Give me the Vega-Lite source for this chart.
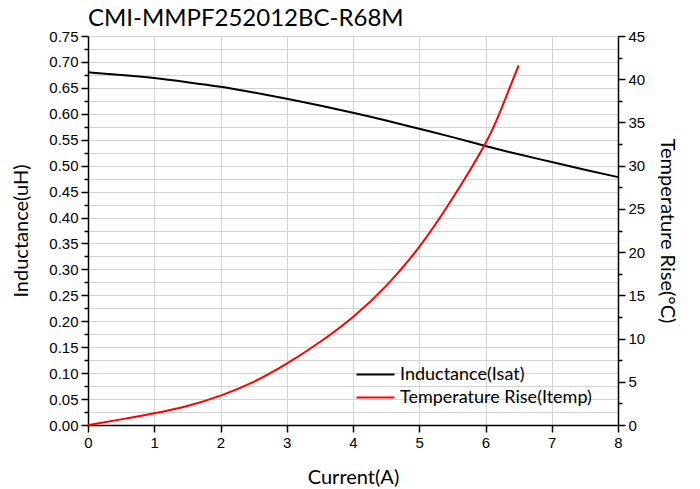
{
  "$schema": "https://vega.github.io/schema/vega-lite/v6.json",
  "width": 530,
  "height": 389,
  "autosize": "none",
  "padding": {"left": 88, "top": 36, "right": 82, "bottom": 64},
  "background": "white",
  "title": {"text": "CMI-MMPF252012BC-R68M", "anchor": "start", "frame": "group", "font": "Lato", "fontSize": 24, "fontWeight": "normal", "color": "#000000", "offset": 0, "dy": 2},
  "config": {
    "view": {"stroke": null},
    "axis": {
      "domainColor": "#000000", "domainWidth": 1.5, "tickColor": "#000000", "tickWidth": 1.5,
      "labelFont": "Liberation Sans", "labelFontSize": 15, "labelColor": "#000000",
      "titleFont": "Lato", "titleFontSize": 20, "titleFontWeight": "normal", "titleColor": "#000000",
      "gridColor": "#d3d3d3", "gridWidth": 1, "labelPadding": 3
    }
  },
  "data": {"values": [
    {"current": 0, "series": "Inductance(Isat)", "value": 0.680},
    {"current": 0.5, "series": "Inductance(Isat)", "value": 0.675},
    {"current": 1, "series": "Inductance(Isat)", "value": 0.669},
    {"current": 1.5, "series": "Inductance(Isat)", "value": 0.661},
    {"current": 2, "series": "Inductance(Isat)", "value": 0.652},
    {"current": 2.5, "series": "Inductance(Isat)", "value": 0.641},
    {"current": 3, "series": "Inductance(Isat)", "value": 0.629},
    {"current": 3.5, "series": "Inductance(Isat)", "value": 0.616},
    {"current": 4, "series": "Inductance(Isat)", "value": 0.602},
    {"current": 4.5, "series": "Inductance(Isat)", "value": 0.587},
    {"current": 5, "series": "Inductance(Isat)", "value": 0.571},
    {"current": 5.5, "series": "Inductance(Isat)", "value": 0.555},
    {"current": 6, "series": "Inductance(Isat)", "value": 0.538},
    {"current": 6.5, "series": "Inductance(Isat)", "value": 0.522},
    {"current": 7, "series": "Inductance(Isat)", "value": 0.507},
    {"current": 7.5, "series": "Inductance(Isat)", "value": 0.492},
    {"current": 8, "series": "Inductance(Isat)", "value": 0.478},
    {"current": 0, "series": "Temperature Rise(Itemp)", "value": 0},
    {"current": 0.5, "series": "Temperature Rise(Itemp)", "value": 0.65},
    {"current": 1, "series": "Temperature Rise(Itemp)", "value": 1.35},
    {"current": 1.5, "series": "Temperature Rise(Itemp)", "value": 2.2},
    {"current": 2, "series": "Temperature Rise(Itemp)", "value": 3.4},
    {"current": 2.5, "series": "Temperature Rise(Itemp)", "value": 5.0},
    {"current": 3, "series": "Temperature Rise(Itemp)", "value": 7.1},
    {"current": 3.5, "series": "Temperature Rise(Itemp)", "value": 9.6},
    {"current": 4, "series": "Temperature Rise(Itemp)", "value": 12.5},
    {"current": 4.5, "series": "Temperature Rise(Itemp)", "value": 16.1},
    {"current": 5, "series": "Temperature Rise(Itemp)", "value": 20.6},
    {"current": 5.5, "series": "Temperature Rise(Itemp)", "value": 26.2},
    {"current": 6, "series": "Temperature Rise(Itemp)", "value": 32.6},
    {"current": 6.25, "series": "Temperature Rise(Itemp)", "value": 36.8},
    {"current": 6.5, "series": "Temperature Rise(Itemp)", "value": 41.6}
  ]},
  "layer": [
    {
      "transform": [{"filter": "datum.series == 'Inductance(Isat)'"}],
      "mark": {"type": "line", "strokeWidth": 2, "interpolate": "natural"},
      "encoding": {
        "x": {"field": "current", "type": "quantitative", "title": "Current(A)",
          "scale": {"domain": [0, 8], "nice": false, "zero": false},
          "axis": {"values": [0,0.5,1,1.5,2,2.5,3,3.5,4,4.5,5,5.5,6,6.5,7,7.5,8],
            "labelExpr": "datum.value % 1 == 0 ? format(datum.value, 'd') : ''",
            "tickSize": {"condition": {"test": "datum.value % 1 == 0", "value": 7}, "value": 4},
            "grid": true, "titlePadding": 17, "labelFlush": false}},
        "y": {"field": "value", "type": "quantitative", "title": "Inductance(uH)",
          "scale": {"domain": [0, 0.75], "nice": false},
          "axis": {"orient": "left",
            "values": [0,0.025,0.05,0.075,0.1,0.125,0.15,0.175,0.2,0.225,0.25,0.275,0.3,0.325,0.35,0.375,0.4,0.425,0.45,0.475,0.5,0.525,0.55,0.575,0.6,0.625,0.65,0.675,0.7,0.725,0.75],
            "labelExpr": "round(datum.value*1000) % 50 == 0 ? format(datum.value, '.2f') : ''",
            "tickSize": {"condition": {"test": "round(datum.value*1000) % 50 == 0", "value": 7}, "value": 4},
            "grid": true, "titlePadding": 17, "labelFlush": false}},
        "color": {"field": "series", "type": "nominal",
          "scale": {"domain": ["Inductance(Isat)", "Temperature Rise(Itemp)"], "range": ["#000000", "#ff0000"]},
          "legend": {"title": null, "orient": "none", "legendX": 277, "legendY": 328,
            "symbolType": "M-2,0H2", "symbolSize": 361, "symbolStrokeWidth": 2,
            "labelFont": "Lato", "labelFontSize": 18, "labelColor": "#000000", "labelOffset": 14,
            "labelLimit": 400, "rowPadding": 3, "padding": 0}}
      }
    },
    {
      "transform": [{"filter": "datum.series == 'Temperature Rise(Itemp)'"}],
      "mark": {"type": "line", "strokeWidth": 2, "interpolate": "natural"},
      "encoding": {
        "x": {"field": "current", "type": "quantitative"},
        "y": {"field": "value", "type": "quantitative", "title": "Temperature Rise(°C)",
          "scale": {"domain": [0, 45], "nice": false},
          "axis": {"orient": "right",
            "values": [0,2.5,5,7.5,10,12.5,15,17.5,20,22.5,25,27.5,30,32.5,35,37.5,40,42.5,45],
            "labelExpr": "datum.value % 5 == 0 ? format(datum.value, 'd') : ''",
            "tickSize": {"condition": {"test": "datum.value % 5 == 0", "value": 7}, "value": 4},
            "grid": false, "titlePadding": 12, "labelFlush": false}},
        "color": {"field": "series", "type": "nominal"}
      }
    }
  ],
  "resolve": {"scale": {"y": "independent"}}
}
